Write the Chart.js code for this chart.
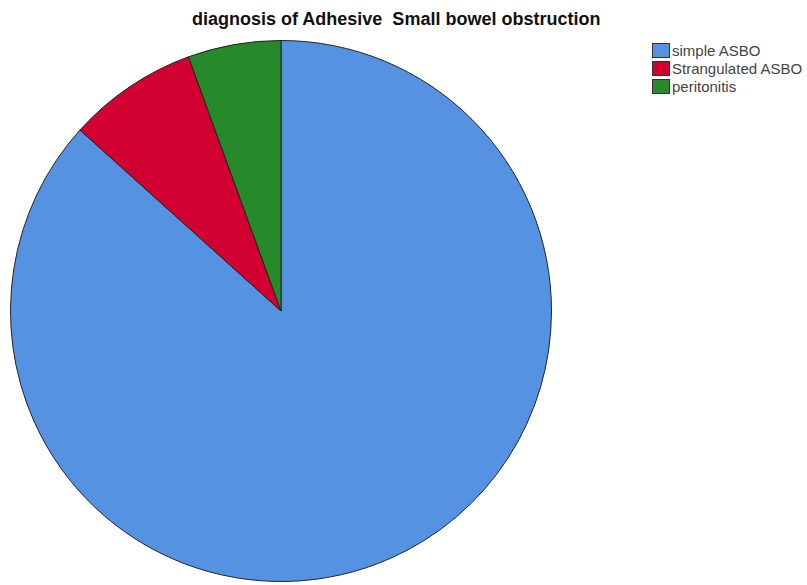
<!DOCTYPE html>
<html>
<head>
<meta charset="utf-8">
<script src="https://cdn.jsdelivr.net/npm/chart.js@4"></script>
<style>
	body { margin: 0; background: #fff; width: 807px; height: 585px; overflow: hidden; position: relative; font-family: "Liberation Sans", Arial, sans-serif; }
	#title { position: absolute; left: 192px; top: 9px; font-size: 18px; font-weight: bold; color: #111; white-space: pre; }
	#pieWrap { position: absolute; left: 10px; top: 40px; width: 542px; height: 542px; }
	#legend { position: absolute; left: 652px; top: 41px; font-size: 15px; color: #444; }
	.row { display: flex; align-items: center; height: 18px; }
	.sw { width: 18px; height: 15px; border: 1px solid #333; margin-right: 2px; box-sizing: border-box; }
</style>
</head>
<body>
<div id="title">diagnosis of Adhesive  Small bowel obstruction</div>
<div id="pieWrap"><canvas id="pieChart"></canvas></div>
<div id="legend"></div>
<script>
const categories = ['simple ASBO', 'Strangulated ASBO', 'peritonitis'];
const counts = [78, 7, 5];
const colors = ['#5592e2', '#d20030', '#278a2a'];

document.addEventListener('DOMContentLoaded', () => {
	const legend = document.getElementById('legend');
	categories.forEach((c, i) => {
		const row = document.createElement('div');
		row.className = 'row';
		row.innerHTML = `<span class="sw" style="background:${colors[i]}"></span><span>${c}</span>`;
		legend.appendChild(row);
	});

	new Chart(document.getElementById('pieChart'), {
		type: 'pie',
		data: {
			labels: categories,
			datasets: [{
				data: counts,
				backgroundColor: colors,
				borderColor: '#222',
				borderWidth: 1
			}]
		},
		options: {
			responsive: true,
			maintainAspectRatio: false,
			animation: false,
			layout: {padding: 0},
			plugins: {legend: {display: false}, title: {display: false}, tooltip: {enabled: false}}
		}
	});
});
</script>
</body>
</html>
